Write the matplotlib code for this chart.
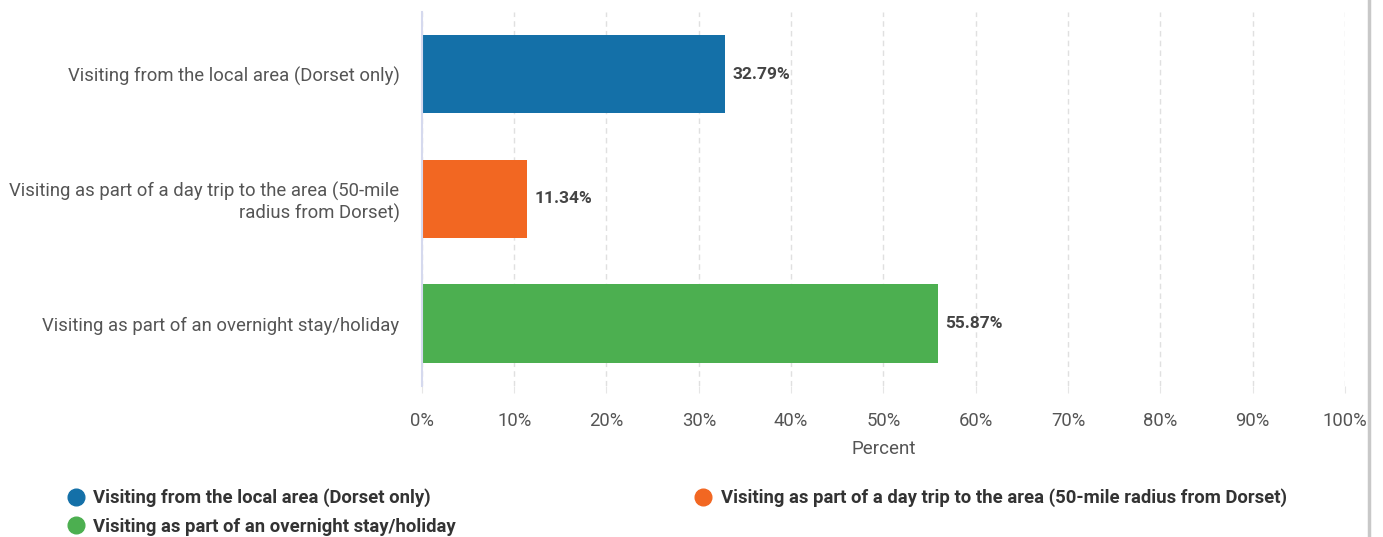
import matplotlib.pyplot as plt
from matplotlib.lines import Line2D
from matplotlib.ticker import FuncFormatter

plt.rcParams['font.family'] = ['Roboto', 'DejaVu Sans']

# データ
categories = [
    'Visiting from the local area (Dorset only)',
    'Visiting as part of a day trip to the area (50-mile\nradius from Dorset)',
    'Visiting as part of an overnight stay/holiday',
]
legend_labels = [
    'Visiting from the local area (Dorset only)',
    'Visiting as part of a day trip to the area (50-mile radius from Dorset)',
    'Visiting as part of an overnight stay/holiday',
]
values = [32.79, 11.34, 55.87]
colors = ['#1470A8', '#F26722', '#4CAF50']
x_ticks = [0, 10, 20, 30, 40, 50, 60, 70, 80, 90, 100]

fig = plt.figure(figsize=(13.83, 5.37), dpi=100)
ax = fig.add_axes([0.305, 0.281, 0.6675, 0.697])

pos = range(len(values))
ax.barh(pos, values, height=0.63, color=colors, zorder=3)

# 値ラベル
for i, v in enumerate(values):
    ax.text(v + 0.85, i, f'{v:.2f}%', va='center', ha='left',
            fontsize=12.5, fontweight='bold', color='#444444')

ax.set_ylim(2.5, -0.5)
ax.set_xlim(0, 100)
ax.set_yticks(list(pos))
ax.set_yticklabels(categories, fontsize=13.3, color='#555555')
ax.set_xticks(x_ticks)
ax.xaxis.set_major_formatter(FuncFormatter(lambda x, p: f'{x:.0f}%'))
ax.tick_params(axis='x', labelsize=13.3, labelcolor='#555555', length=5,
               color='#e6e6e6', pad=13.5)
ax.tick_params(axis='y', length=0, pad=16)
ax.set_xlabel('Percent', fontsize=13.5, color='#555555', labelpad=7.5)

ax.grid(axis='x', linestyle=(0, (4, 3)), color='#e0e0e0', linewidth=1, zorder=0)
for s in ['top', 'right', 'bottom']:
    ax.spines[s].set_visible(False)
ax.spines['left'].set_color('#d5d9ee')
ax.spines['left'].set_linewidth(1.5)
ax.spines['left'].set_zorder(4)

# 凡例（行優先に見せるため順番を入れ替え）
handles = [Line2D([], [], marker='o', linestyle='', markersize=12,
                  markerfacecolor=c, markeredgecolor=c) for c in colors]
order = [0, 2, 1]
leg = fig.legend([handles[i] for i in order], [legend_labels[i] for i in order],
                 ncol=2, loc='lower left', bbox_to_anchor=(0.036, -0.029),
                 frameon=False, handletextpad=0.45, columnspacing=12.9,
                 labelspacing=0.57, handlelength=1.0,
                 prop={'size': 13.3, 'weight': 'bold'})
for t in leg.get_texts():
    t.set_color('#333333')

# 右端のグレーの縦線
fig.add_artist(Line2D([1369 / 1383, 1369 / 1383], [0, 1], color='#c8c8c8',
                      linewidth=2.5, transform=fig.transFigure))

fig.savefig('out.png', dpi=100)
